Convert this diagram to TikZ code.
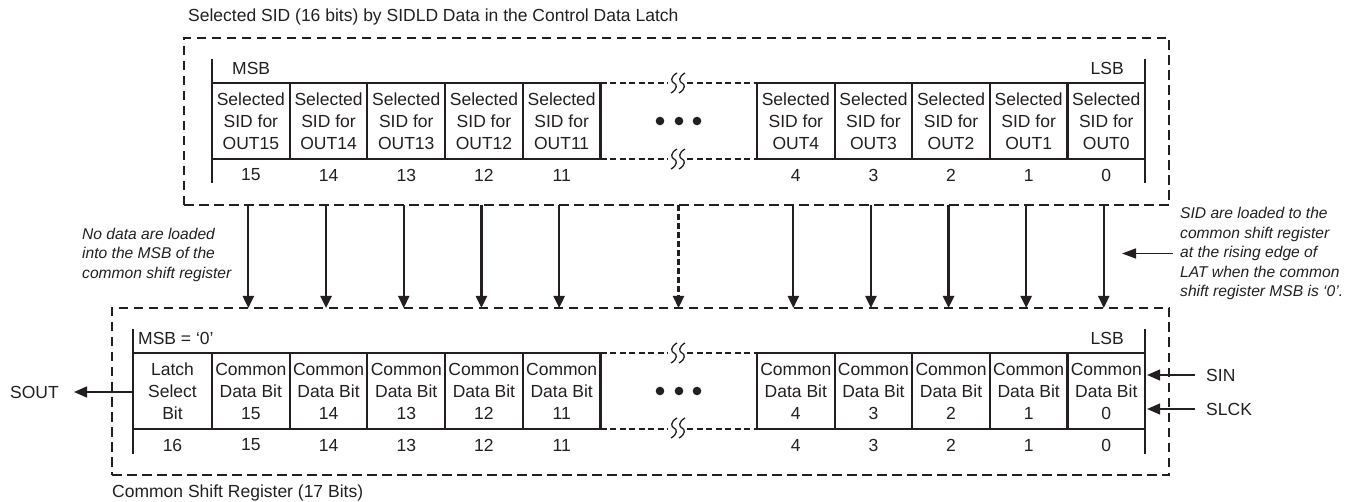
\documentclass[tikz,border=0pt]{standalone}
\usepackage{fontspec}
\setmainfont{Liberation Sans}
\usetikzlibrary{arrows.meta}
\definecolor{ink}{HTML}{231F20}
\newcommand\mainf{\fontsize{17.5}{22}\selectfont}
\newcommand\notef{\fontsize{15.6}{19.5}\selectfont}
\newcommand\mybrk[2]{%
  \draw[line width=1.3pt] ({#1+3},{#2-10}) .. controls ({#1-4},{#2-6}) and ({#1-3},{#2-1}) .. ({#1},{#2}) .. controls ({#1+3},{#2+1}) and ({#1+4},{#2+6}) .. ({#1-3},{#2+10});}
\begin{document}
\begin{tikzpicture}[x=1pt,y=-1pt,color=ink,
  cell/.style={draw, line width=2.1pt, minimum width=77.7pt, minimum height=76pt,
    inner sep=0pt, outer sep=0pt, align=center, font=\mainf, anchor=north west},
  num/.style={inner sep=0pt, font=\mainf},
  lbl/.style={inner sep=0pt, font=\mainf, anchor=west},
  note/.style={inner sep=0pt, align=left, font=\notef\itshape, anchor=west},
  dbox/.style={draw, line width=2.5pt, dash pattern=on 9.5pt off 5.5pt, inner sep=0pt, outer sep=0pt},
  bigarr/.style={line width=2.2pt, -{Triangle[length=12pt,width=11pt]}},
  dasharr/.style={line width=2.2pt, dash pattern=on 6pt off 3pt, -{Triangle[length=12pt,width=11pt]}},
  smallarr/.style={line width=1.4pt, -{Triangle[length=13pt,width=11pt]}},
  notearr/.style={line width=1.4pt, -{Triangle[length=14pt,width=10pt]}},
  thindash/.style={line width=1.8pt, dash pattern=on 6pt off 3.5pt},
  brk/.style={line width=2.5pt}]
\useasboundingbox (0,0) rectangle (1362,502);

% dashed enclosures
\node[dbox, minimum width=985pt, minimum height=167pt] (topbox) at (676.5,121.5) {};
\node[dbox, minimum width=1057pt, minimum height=167pt] (botbox) at (640.5,391.5) {};

% titles
\node[lbl] (title) at (188,17) {Selected SID (16 bits) by SIDLD Data in the Control Data Latch};
\node[lbl] (caption) at (112,493) {Common Shift Register (17 Bits)};

% top register cells
\foreach \n/\x in {15/212,14/289.7,13/367.4,12/445.1,11/522.8,4/757,3/834.6,2/912.2,1/989.8,0/1067.4}{
  \node[cell] (t\n) at (\x,83) {Selected\\SID for\\OUT\n};
  \node[num] (tn\n) at ({\x+38.85},175) {\n};
}
% bottom register cells
\node[cell, minimum width=79pt] (b16) at (133,353) {Latch\\Select\\Bit};
\node[num] (bn16) at (172.5,445) {16};
\foreach \n/\x in {15/212,14/289.7,13/367.4,12/445.1,11/522.8,4/757,3/834.6,2/912.2,1/989.8,0/1067.4}{
  \node[cell] (b\n) at (\x,353) {Common\\Data Bit\\\n};
  \node[num] (bn\n) at ({\x+38.85},445) {\n};
}

% MSB / LSB labels
\node[lbl] (msbt) at (232,68) {MSB};
\node[lbl, anchor=east] (lsbt) at (1124,68) {LSB};
\node[lbl] (msbb) at (138,338) {MSB = ‘0’};
\node[lbl, anchor=east] (lsbb) at (1124,338) {LSB};

% brackets
\draw[brk] ([yshift=24pt]t15.north west) -- ([yshift=-24pt]t15.south west);
\draw[brk] ([yshift=24pt]t0.north east) -- ([yshift=-24pt]t0.south east);
\draw[brk] ([yshift=24pt]b16.north west) -- ([yshift=-25pt]b16.south west);
\draw[brk] ([yshift=24pt]b0.north east) -- ([yshift=-25pt]b0.south east);

% elided middle sections
\coordinate (gapL) at (668,0);
\coordinate (gapR) at (687,0);
\draw[thindash] (t11.north east) -- (t11.north east -| gapL);
\draw[thindash] (gapR |- t4.north west) -- (t4.north west);
\draw[thindash] (t11.south east) -- (t11.south east -| gapL);
\draw[thindash] (gapR |- t4.south west) -- (t4.south west);
\draw[thindash] (b11.north east) -- (b11.north east -| gapL);
\draw[thindash] (gapR |- b4.north west) -- (b4.north west);
\draw[thindash] (b11.south east) -- (b11.south east -| gapL);
\draw[thindash] (gapR |- b4.south west) -- (b4.south west);
\mybrk{674}{83}\mybrk{682}{83}
\mybrk{674}{159}\mybrk{682}{159}
\mybrk{674}{353}\mybrk{682}{353}
\mybrk{674}{428}\mybrk{682}{428}
\foreach \cx in {660,679,697}{
  \fill (\cx,121) circle (4.3pt);
  \fill (\cx,391) circle (4.3pt);
}

% load arrows
\foreach \n in {15,14,13,12,11,4,3,2,1,0}{
  \draw[bigarr] ([xshift=-2.5pt]topbox.south -| t\n) -- ([xshift=-2.5pt]botbox.north -| t\n);
}
\coordinate (midarr) at (678.5,0);
\draw[dasharr] (topbox.south -| midarr) -- (botbox.north -| midarr);

% side signals
\node[lbl] (sout) at (10,392) {SOUT};
\draw[smallarr, shorten >=15pt] (b16.west |- sout) -- (sout.east);
\node[lbl] (sin) at (1206,375) {SIN};
\node[lbl] (slck) at (1206,409) {SLCK};
\draw[smallarr, shorten <=11pt, shorten >=2pt] (sin.west) -- (sin.west -| b0.east);
\draw[smallarr, shorten <=11pt, shorten >=2pt] (slck.west) -- (slck.west -| b0.east);

% notes
\node[note] (lnote) at (82,254.5) {No data are loaded\\into the MSB of the\\common shift register};
\node[note] (rnote) at (1180,253.5) {SID are loaded to the\\common shift register\\at the rising edge of\\LAT when the common\\shift register MSB is ‘0’.};
\coordinate (ntip) at (1122,0);
\draw[notearr, shorten <=7pt] (rnote.west) -- (rnote.west -| ntip);
\end{tikzpicture}
\end{document}
